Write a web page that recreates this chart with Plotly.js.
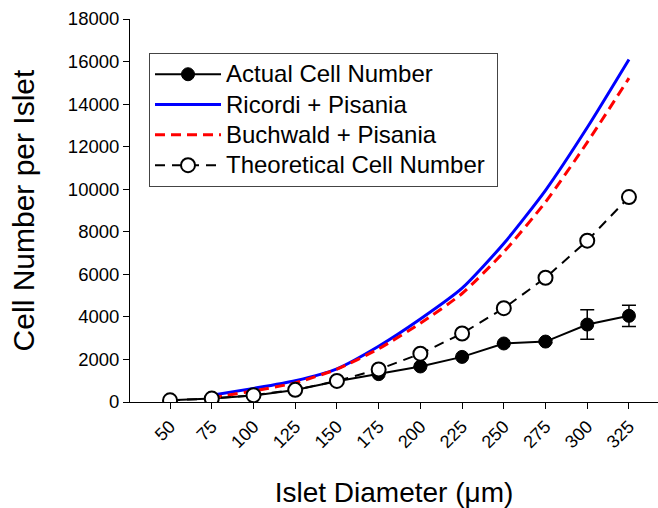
<!DOCTYPE html>
<html>
<head>
<meta charset="utf-8">
<script src="https://cdn.plot.ly/plotly-3.0.1.min.js"></script>
<style>html,body{margin:0;padding:0;background:#fff;}#chart{width:658px;height:508px;}</style>
</head>
<body>
<div id="chart"></div>
<script>
var diameters = [50, 75, 100, 125, 150, 175, 200, 225, 250, 275, 300, 325];
var actualCells = [80, 170, 300, 560, 980, 1310, 1670, 2120, 2750, 2840, 3640, 4050];
var actualErr = [0, 0, 0, 0, 0, 0, 0, 0, 0, 60, 690, 500];
var curveDiameters = [75, 100, 125, 150, 175, 200, 225, 250, 275, 300, 325];
var ricordiPisania = [320, 640, 1000, 1560, 2620, 3900, 5350, 7450, 9950, 12900, 16100];
var buchwaldPisania = [200, 520, 900, 1540, 2500, 3700, 5100, 7050, 9400, 12200, 15220];
var theoreticalCells = [80, 160, 320, 570, 990, 1530, 2270, 3220, 4410, 5840, 7580, 9630];
var tickLabels = ['50','75','100','125','150','175','200','225','250','275','300','325'];
var seriesNames = ['Actual Cell Number', 'Ricordi + Pisania', 'Buchwald + Pisania', 'Theoretical Cell Number'];

var font = 'Liberation Sans, Arial, sans-serif';
function legendName(s) { return '<span style="font-size:24px">' + s + '\u00A0</span>'; }

var traces = [
  {
    x: diameters, y: actualCells, name: legendName(seriesNames[0]), type: 'scatter', mode: 'lines+markers',
    line: {color: '#000', width: 2},
    marker: {color: '#000', size: 13, symbol: 'circle', line: {color: '#000', width: 1}},
    error_y: {type: 'data', array: actualErr, visible: true, color: '#000', thickness: 1.5, width: 7}
  },
  {
    x: curveDiameters, y: ricordiPisania, name: legendName(seriesNames[1]), type: 'scatter', mode: 'lines',
    line: {color: '#0000ff', width: 3, shape: 'spline', smoothing: 0.6}
  },
  {
    x: curveDiameters, y: buchwaldPisania, name: legendName(seriesNames[2]), type: 'scatter', mode: 'lines',
    line: {color: '#ff0000', width: 3, dash: '10px,6px', shape: 'spline', smoothing: 0.6}
  },
  {
    x: diameters, y: theoreticalCells, name: legendName(seriesNames[3]), type: 'scatter', mode: 'lines+markers',
    line: {color: '#000', width: 2, dash: '10px,7px'},
    marker: {color: '#fff', size: 14, symbol: 'circle', line: {color: '#000', width: 2}}
  }
];

var layout = {
  width: 658, height: 508,
  margin: {l: 130, r: 0, t: 19, b: 106},
  paper_bgcolor: '#fff', plot_bgcolor: '#fff',
  font: {family: font, color: '#000', size: 18},
  showlegend: true,
  legend: {
    x: 0.036, y: 0.911, xanchor: 'left', yanchor: 'top',
    bgcolor: '#fff', bordercolor: '#444', borderwidth: 1,
    font: {family: font, size: 21, color: '#000'},
    itemwidth: 66, tracegroupgap: 0
  },
  xaxis: {
    type: 'linear', range: [26, 342.4],
    tickmode: 'array', tickvals: diameters, ticktext: tickLabels,
    tickangle: -45, ticks: 'outside', ticklen: 6, tickcolor: '#000', tickwidth: 1,
    showline: true, linecolor: '#000', linewidth: 1, showgrid: false, zeroline: false,
    tickfont: {family: font, size: 18, color: '#000'},
    title: {text: 'Islet Diameter (μm)', font: {family: font, size: 28, color: '#000'}, standoff: 32}
  },
  yaxis: {
    range: [0, 18000], dtick: 2000, tick0: 0, tickformat: 'd',
    ticks: 'outside', ticklen: 6, tickcolor: '#000', tickwidth: 1,
    showline: true, linecolor: '#000', linewidth: 1, showgrid: false, zeroline: false,
    tickfont: {family: font, size: 18.5, color: '#000'},
    title: {text: 'Cell Number per Islet', font: {family: font, size: 30, color: '#000'}, standoff: 24}
  }
};

Plotly.newPlot('chart', traces, layout, {displayModeBar: false, staticPlot: true});
</script>
</body>
</html>
